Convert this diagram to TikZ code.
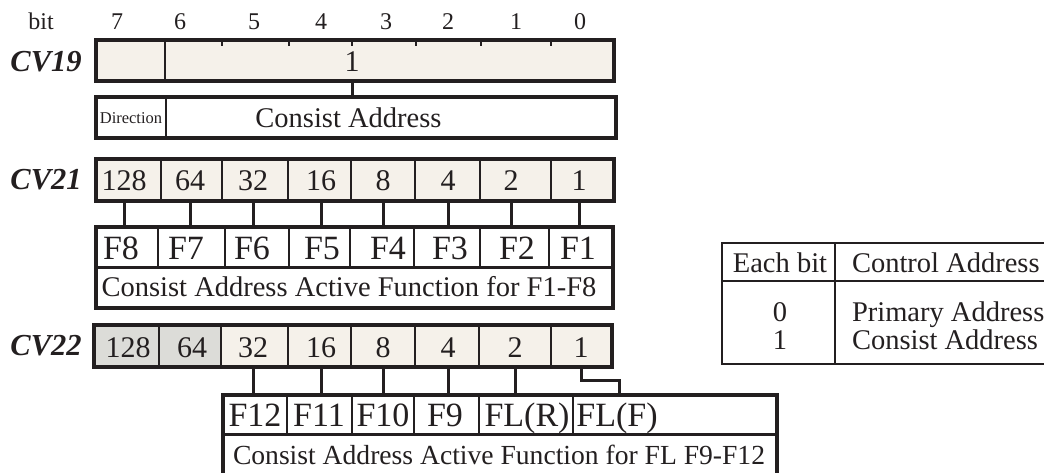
\documentclass[tikz,border=0pt]{standalone}
\usepackage{fontspec}
\setmainfont{Liberation Serif}
\definecolor{cream}{HTML}{F5F1EA}
\definecolor{greycell}{HTML}{DCDCD8}
\definecolor{ink}{HTML}{231F20}
\tikzset{
  frame/.style={draw=ink, line width=3.2pt, inner sep=0pt, outer sep=0pt, anchor=north west},
  divider/.style={draw=ink, line width=1.5pt},
  rule/.style={draw=ink, line width=3pt},
  link/.style={draw=ink, line width=3pt},
  lbl/.style={inner sep=0pt, outer sep=0pt, text=ink, text depth=0pt},
  maintext/.style={lbl, text height=19pt, font=\fontsize{28.5}{30}\selectfont},
  numtext/.style={lbl, text height=20pt, font=\fontsize{30}{32}\selectfont},
  ftext/.style={lbl, text height=22.5pt, font=\fontsize{34}{36}\selectfont},
  bittext/.style={lbl, text height=16pt, font=\fontsize{24}{26}\selectfont},
  cvtext/.style={lbl, text height=20.5pt, font=\fontsize{30.5}{32}\selectfont\bfseries\itshape},
  smalltext/.style={lbl, text height=11pt, font=\fontsize{16.5}{18}\selectfont},
}
\begin{document}
\begin{tikzpicture}[x=1pt, y=-1pt]
\useasboundingbox (0,0) rectangle (1044,473);
\clip (0,0) rectangle (1044,473);

% bit numbers
\node[bittext] (bit) at (41,22) {bit};
\foreach \b/\x in {7/117, 6/180, 5/254, 4/321, 3/386, 2/448, 1/516, 0/580}
  \node[bittext] (b\b) at (\x,22) {\b};

% register names
\node[cvtext] (cv19l) at (46,61) {CV19};
\node[cvtext] (cv21l) at (46,179) {CV21};
\node[cvtext] (cv22l) at (46,345) {CV22};

% ---------- CV19 ----------
\node[frame, fill=cream, minimum width=518pt, minimum height=41pt] (cv19) at (96,40) {};
\draw[divider] (165,40) -- (165,81);
\foreach \x in {222, 289, 352, 416, 481, 551}
  \draw[divider] (\x,40) -- (\x,46);
\node[numtext] (one19) at (352,62) {1};

\node[frame, minimum width=520pt, minimum height=41pt] (dir) at (96,97) {};
\draw[divider] (166,97) -- (166,138);
\node[smalltext] (dirt) at (131,118) {Direction};
\node[maintext] (ca19) at (348.5,118) {Consist Address};
\draw[link] (one19 |- cv19.south) -- (one19 |- dir.north);

% ---------- CV21 ----------
\node[frame, fill=cream, minimum width=518pt, minimum height=42pt] (cv21) at (96,159) {};
\foreach \x in {161, 222, 288, 351, 415, 480, 551}
  \draw[divider] (\x,159) -- (\x,201);
\foreach \i/\v/\x in {7/128/124, 6/64/190, 5/32/253, 4/16/321, 3/8/383, 2/4/448, 1/2/511, 0/1/579}
  \node[numtext] (n21-\i) at (\x,181) {\v};

\node[frame, minimum width=517pt, minimum height=81pt] (fb21) at (96,227) {};
\draw[rule] (96,267) -- (613,267);
\foreach \x in {158, 225, 289, 350, 414, 480, 549}
  \draw[divider] (\x,227) -- (\x,267);
\foreach \i/\v/\x in {7/F8/121, 6/F7/186, 5/F6/252, 4/F5/322, 3/F4/388, 2/F3/450, 1/F2/517, 0/F1/578}
  \node[ftext] (f21-\i) at (\x,248) {\v};
\node[maintext] (ca21) at (349,287) {Consist Address Active Function for F1-F8};
\foreach \i in {0,...,7}
  \draw[link] (n21-\i |- cv21.south) -- (n21-\i |- fb21.north);

% ---------- CV22 ----------
\fill[cream] (94,325) rectangle (612,367);
\fill[greycell] (94,325) rectangle (221,367);
\node[frame, minimum width=518pt, minimum height=42pt] (cv22) at (94,325) {};
\foreach \x in {159, 221, 288, 351, 415, 479, 551}
  \draw[divider] (\x,325) -- (\x,367);
\foreach \i/\v/\x in {7/128/128, 6/64/192, 5/32/253, 4/16/321, 3/8/383, 2/4/448, 1/2/515, 0/1/581}
  \node[numtext] (n22-\i) at (\x,347) {\v};

\node[frame, minimum width=554pt, minimum height=110pt] (fb22) at (223,395) {};
\draw[rule] (223,434) -- (777,434);
\foreach \x in {287, 352, 414, 479, 573}
  \draw[divider] (\x,395) -- (\x,434);
\foreach \i/\v/\x in {5/F12/255, 4/F11/319, 3/F10/383, 2/F9/445, 1/FL(R)/527, 0/FL(F)/617}
  \node[ftext] (f22-\i) at (\x,415) {\v};
\node[maintext, anchor=west, font=\fontsize{27.6}{29}\selectfont] (ca22) at (233,455) {Consist Address Active Function for FL F9-F12};
\foreach \i in {1,...,5}
  \draw[link] (n22-\i |- cv22.south) -- (n22-\i |- fb22.north);
\coordinate (elbow) at (619,380);
\draw[link] (n22-0 |- cv22.south) |- (elbow) -- (elbow |- fb22.north);

% ---------- legend table ----------
\node[frame, line width=2.6pt, minimum width=340pt, minimum height=121pt] (tbl) at (722,243) {};
\draw[rule, line width=2.2pt] (722,281) -- (1060,281);
\draw[rule, line width=2.2pt] (835,243) -- (835,364);
\node[maintext] (eb) at (780,263) {Each bit};
\node[maintext, anchor=west] (cadr) at (852,263) {Control Address};
\node[maintext] (z0) at (780,312) {0};
\node[maintext, anchor=west] (pa) at (852,312) {Primary Address};
\node[maintext] (z1) at (780,340) {1};
\node[maintext, anchor=west] (csa) at (852,340) {Consist Address};
\end{tikzpicture}
\end{document}
